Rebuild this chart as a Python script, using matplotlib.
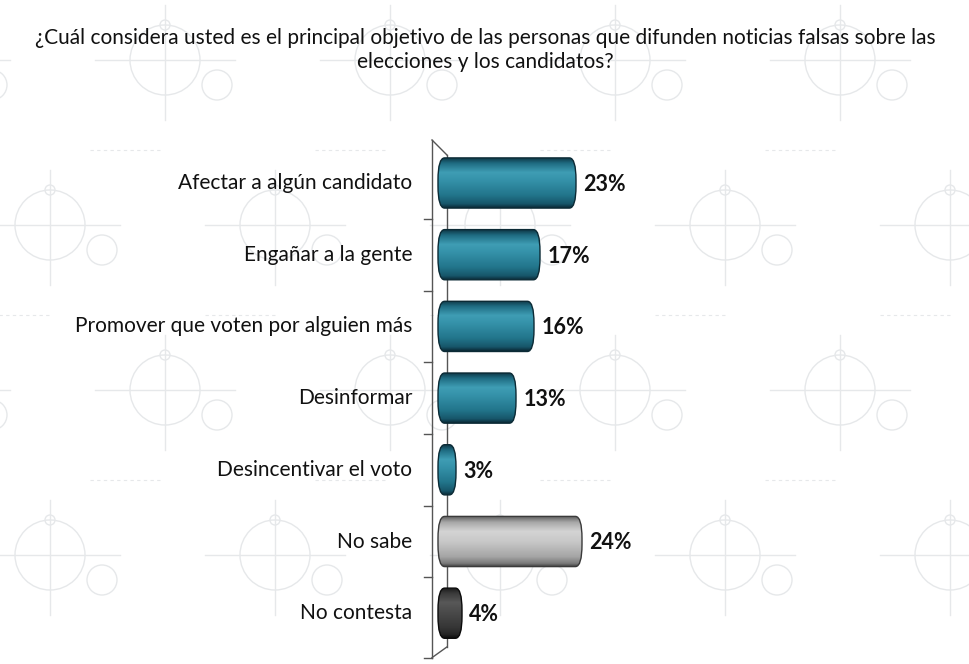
import numpy as np
import matplotlib.pyplot as plt
from matplotlib.colors import LinearSegmentedColormap
from matplotlib.patches import FancyBboxPatch, Circle

# datos de la encuesta
categorias = ['Afectar a algún candidato', 'Engañar a la gente',
              'Promover que voten por alguien más', 'Desinformar',
              'Desincentivar el voto', 'No sabe', 'No contesta']
valores = [23, 17, 16, 13, 3, 24, 4]
etiquetas = ['23%', '17%', '16%', '13%', '3%', '24%', '4%']
grupos = ['azul', 'azul', 'azul', 'azul', 'azul', 'gris', 'negro']

titulo1 = '¿Cuál considera usted es el principal objetivo de las personas que difunden noticias falsas sobre las'
titulo2 = 'elecciones y los candidatos?'

plt.rcParams['font.family'] = ['Lato', 'DejaVu Sans']

W, H = 969, 664
fig = plt.figure(figsize=(W / 100, H / 100), dpi=100)
fig.patch.set_facecolor('white')

# marca de agua de fondo (solo decorativa, sin texto)
bg = fig.add_axes([0, 0, 1, 1])
bg.set_xlim(0, W)
bg.set_ylim(H, 0)
bg.axis('off')
wm = '#e6e8ea'
for row, cy in enumerate(range(60, 720, 165)):
    off = 110 if row % 2 else 0
    for cx in range(-60 + off, 1050, 225):
        bg.plot([cx - 70, cx + 70], [cy, cy], color=wm, lw=1)
        bg.plot([cx, cx], [cy - 55, cy + 60], color=wm, lw=1)
        bg.add_patch(Circle((cx, cy), 35, fill=False, ec=wm, lw=1))
        bg.add_patch(Circle((cx, cy - 35), 5, fill=False, ec=wm, lw=1))
        bg.add_patch(Circle((cx + 52, cy + 25), 15, fill=False, ec=wm, lw=1))
        bg.plot([cx + 40, cx + 110], [cy - 75, cy - 75], color=wm, lw=0.8, ls=(0, (3, 3)))

# titulo
fig.text(485 / W, 1 - 38 / H, titulo1, ha='center', va='center', fontsize=15, color='#111111')
fig.text(485 / W, 1 - 62 / H, titulo2, ha='center', va='center', fontsize=15, color='#111111')

# colores tipo cilindro
mapas = {
    'azul': LinearSegmentedColormap.from_list('azul', [
        (0.0, '#0c3240'), (0.12, '#1f6c82'), (0.3, '#3f9db4'), (0.45, '#3592aa'),
        (0.75, '#22758b'), (0.92, '#17566a'), (1.0, '#0a2a36')]),
    'gris': LinearSegmentedColormap.from_list('gris', [
        (0.0, '#5e5e5e'), (0.12, '#a8a8a8'), (0.3, '#d4d4d4'), (0.5, '#c8c8c8'),
        (0.8, '#a5a5a5'), (0.93, '#7a7a7a'), (1.0, '#3e3e3e')]),
    'negro': LinearSegmentedColormap.from_list('negro', [
        (0.0, '#151515'), (0.12, '#3a3a3a'), (0.3, '#585858'), (0.5, '#4a4a4a'),
        (0.8, '#353535'), (0.93, '#242424'), (1.0, '#0d0d0d')]),
}
bordes = {'azul': '#0b2a35', 'gris': '#3a3a3a', 'negro': '#0a0a0a'}

# ejes: 0% en x=438px, 6 px por punto; centros de barra cada 71.7 px
top, bottom = 183 - 35.85, 183 + 6 * 71.7 + 35.85
ax = fig.add_axes([432 / W, 1 - bottom / H, 246 / W, (bottom - top) / H])
ax.set_facecolor('none')
ax.patch.set_alpha(0)
ax.axis('off')

grad = np.linspace(0, 1, 200).reshape(-1, 1)
alto = 0.7
for i, (v, g) in enumerate(zip(valores, grupos)):
    im = ax.imshow(grad, cmap=mapas[g], aspect='auto', origin='upper',
                   extent=(0, v, i + alto / 2, i - alto / 2), zorder=3)
    caja = FancyBboxPatch((0, i - alto / 2), v, alto,
                          boxstyle='round,pad=0,rounding_size=1.1',
                          mutation_aspect=0.28, transform=ax.transData)
    im.set_clip_path(caja)
    borde = FancyBboxPatch((0, i - alto / 2), v, alto,
                           boxstyle='round,pad=0,rounding_size=1.1',
                           mutation_aspect=0.28, fc='none', ec=bordes[g], lw=1.0, zorder=4)
    ax.add_patch(borde)
    ax.text(v + 1.2, i + 0.02, etiquetas[i], ha='left', va='center',
            fontsize=15.5, fontweight='bold', color='#111111')
    ax.text(-4.3, i, categorias[i], ha='right', va='center', fontsize=15,
            color='#111111', clip_on=False)

# pared en 3D y marcas del eje
lc = '#555555'
ax.plot([-1, -1], [-0.6, 6.62], color=lc, lw=1, clip_on=False, zorder=2)
ax.plot([1.5, 1.5], [-0.39, 6.47], color=lc, lw=1, clip_on=False, zorder=2)
ax.plot([-1, 1.5], [-0.6, -0.39], color=lc, lw=1, clip_on=False, zorder=2)
ax.plot([-1, 1.5], [6.62, 6.47], color=lc, lw=1, clip_on=False, zorder=2)
for yt in [0.5, 1.5, 2.5, 3.5, 4.5, 5.5, 6.62]:
    ax.plot([-2.3, -1], [yt, yt], color=lc, lw=1, clip_on=False, zorder=2)

ax.set_xlim(-1, 40)
ax.set_ylim(6.5, -0.5)

fig.savefig('out.png', dpi=100, facecolor='white')
